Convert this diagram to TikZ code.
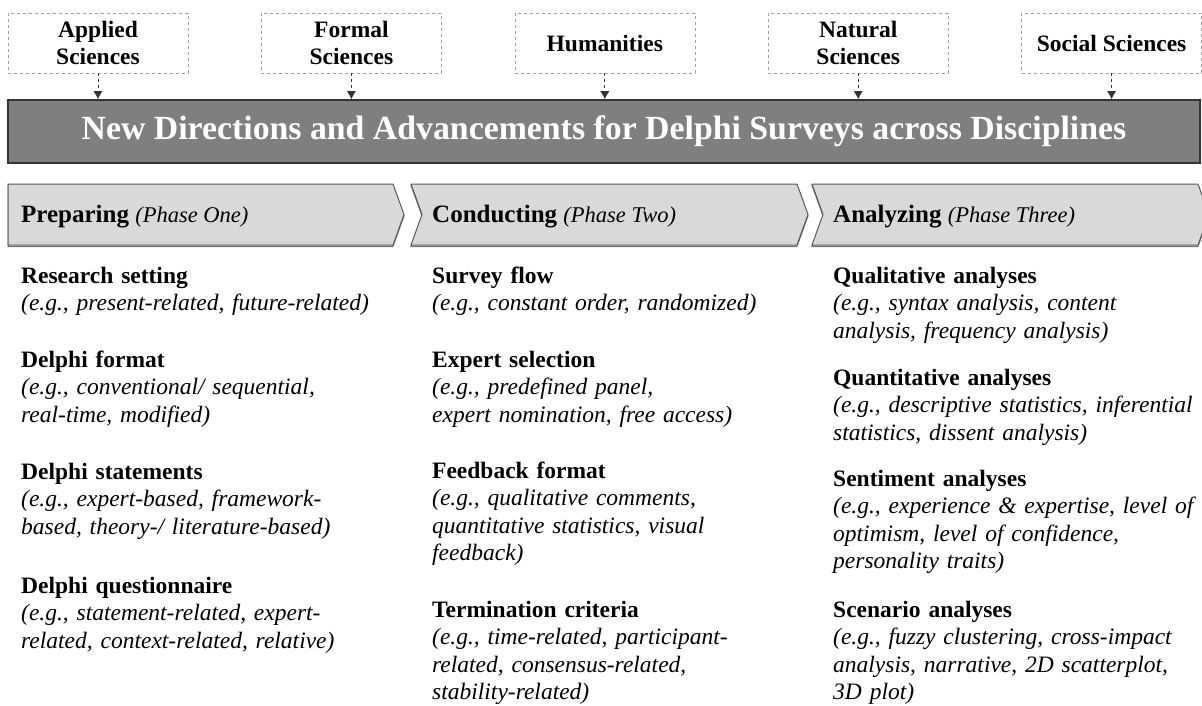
\documentclass[tikz,border=0pt]{standalone}
\usepackage{fontspec}
\setmainfont{Liberation Serif}
\usepackage{tikz}
\usetikzlibrary{arrows.meta, positioning}
\definecolor{bannergray}{HTML}{7F7F7F}
\definecolor{phasegray}{HTML}{D9D9D9}
\tikzset{
  >={Latex[length=8pt,width=9pt]}, % filled arrow heads
  node distance=73pt, % gap between the discipline boxes
  discipline/.style={draw=gray!75, dashed, minimum width=180pt, minimum height=60pt,
    align=center, font=\fontsize{23.5}{27.5}\selectfont\bfseries, inner sep=1pt},
  feed/.style={->, dashed, draw=black!80, line width=0.8pt},
  banner/.style={draw=black!80, line width=1.5pt, fill=bannergray, text=white,
    minimum width=1192pt, minimum height=63pt, font=\fontsize{33.8}{40}\selectfont\bfseries},
  phase/.style={draw=black!65, line width=1pt, fill=phasegray,
    preaction={draw=black!55, line width=1pt, transform canvas={yshift=-1.5pt}}},
  phasetext/.style={anchor=base west, inner sep=0pt, font=\fontsize{25}{28}\selectfont},
  topic/.style={anchor=base west, inner sep=0pt, text width=385pt, align=left,
    font=\fontsize{23.5}{27.6}\selectfont},
}

\begin{document}
\begin{tikzpicture}[x=1pt, y=-1pt]
  \useasboundingbox (0,0) rectangle (1202,706);

  % disciplines
  \node[discipline] (applied) at (98,43) {Applied\\Sciences};
  \node[discipline, right=of applied] (formal) {Formal\\Sciences};
  \node[discipline, right=of formal] (human) {Humanities};
  \node[discipline, right=of human] (natural) {Natural\\Sciences};
  \node[discipline, right=of natural] (social) {Social Sciences};

  \node[banner] (title) at (604,131.5) {New Directions and Advancements for Delphi Surveys across Disciplines};

  \draw[feed] (applied.south) -- (applied.south |- title.north);
  \draw[feed] (formal.south) -- (formal.south |- title.north);
  \draw[feed] (human.south) -- (human.south |- title.north);
  \draw[feed] (natural.south) -- (natural.south |- title.north);
  \draw[feed] (social.south) -- (social.south |- title.north);

  % phases
  \draw[phase] (8,184) -- (393,184) -- (404,214.5) -- (393,245) -- (8,245) -- cycle;
  \draw[phase] (411,184) -- (797,184) -- (808,214.5) -- (797,245) -- (411,245) -- (422,214.5) -- cycle;
  \draw[phase] (812,184) -- (1198,184) -- (1209,214.5) -- (1198,245) -- (812,245) -- (823,214.5) -- cycle;

  \node[phasetext] (prep) at (21,222) {\textbf{Preparing} {\fontsize{22.5}{28}\selectfont\textit{(Phase One)}}};
  \node[phasetext] (cond) at (432,222) {\textbf{Conducting} {\fontsize{22.5}{28}\selectfont\textit{(Phase Two)}}};
  \node[phasetext] (anal) at (833,222) {\textbf{Analyzing} {\fontsize{22.5}{28}\selectfont\textit{(Phase Three)}}};

  % preparing
  \node[topic] (setting) at (21,283) {\textbf{Research setting}\\
    \textit{(e.g., present-related, future-related)}};
  \node[topic] (format) at (21,367) {\textbf{Delphi format}\\
    \textit{(e.g., conventional/ sequential,}\\\textit{real-time, modified)}};
  \node[topic] (statem) at (21,479) {\textbf{Delphi statements}\\
    \textit{(e.g., expert-based, framework-}\\\textit{based, theory-/ literature-based)}};
  \node[topic] (quest) at (21,593) {\textbf{Delphi questionnaire}\\
    \textit{(e.g., statement-related, expert-}\\\textit{related, context-related, relative)}};

  % conducting
  \node[topic] (flow) at (432,283) {\textbf{Survey flow}\\
    \textit{(e.g., constant order, randomized)}};
  \node[topic] (select) at (432,367) {\textbf{Expert selection}\\
    \textit{(e.g., predefined panel,}\\\textit{expert nomination, free access)}};
  \node[topic] (feedb) at (432,478) {\textbf{Feedback format}\\
    \textit{(e.g., qualitative comments,}\\\textit{quantitative statistics, visual}\\\textit{feedback)}};
  \node[topic] (termin) at (432,617) {\textbf{Termination criteria}\\
    \textit{(e.g., time-related, participant-}\\\textit{related, consensus-related,}\\\textit{stability-related)}};

  % analyzing
  \node[topic] (qual) at (833,283) {\textbf{Qualitative analyses}\\
    \textit{(e.g., syntax analysis, content}\\\textit{analysis, frequency analysis)}};
  \node[topic] (quant) at (833,385) {\textbf{Quantitative analyses}\\
    \textit{(e.g., descriptive statistics, inferential}\\\textit{statistics, dissent analysis)}};
  \node[topic] (senti) at (833,486) {\textbf{Sentiment analyses}\\
    \textit{(e.g., experience \& expertise, level of}\\\textit{optimism, level of confidence,}\\\textit{personality traits)}};
  \node[topic] (scen) at (833,617) {\textbf{Scenario analyses}\\
    \textit{(e.g., fuzzy clustering, cross-impact}\\\textit{analysis, narrative, 2D scatterplot,}\\\textit{3D plot)}};
\end{tikzpicture}
\end{document}
